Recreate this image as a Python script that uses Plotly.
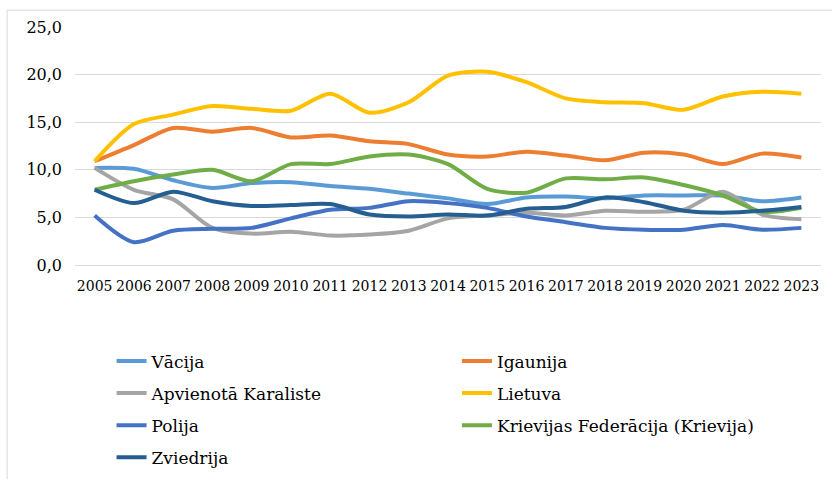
import plotly.graph_objects as go

years = [str(y) for y in range(2005, 2024)]

vacija = [10.2, 10.1, 8.9, 8.1, 8.6, 8.7, 8.3, 8.0, 7.5, 7.0, 6.4, 7.1, 7.2, 7.0, 7.3, 7.3, 7.3, 6.7, 7.1]
igaunija = [10.9, 12.6, 14.4, 14.0, 14.4, 13.4, 13.6, 13.0, 12.7, 11.6, 11.4, 11.9, 11.5, 11.0, 11.8, 11.6, 10.6, 11.7, 11.3]
apvienota = [10.2, 7.9, 6.9, 3.9, 3.3, 3.5, 3.1, 3.2, 3.6, 4.9, 5.2, 5.5, 5.2, 5.7, 5.6, 5.8, 7.7, 5.3, 4.8]
lietuva = [10.9, 14.8, 15.8, 16.7, 16.4, 16.2, 18.0, 16.0, 17.1, 19.9, 20.3, 19.2, 17.5, 17.1, 17.0, 16.3, 17.7, 18.2, 18.0]
polija = [5.2, 2.4, 3.6, 3.8, 3.9, 4.9, 5.8, 6.0, 6.7, 6.5, 6.0, 5.1, 4.5, 3.9, 3.7, 3.7, 4.2, 3.7, 3.9]
krievija = [7.9, 8.8, 9.5, 10.0, 8.8, 10.6, 10.6, 11.4, 11.6, 10.6, 8.0, 7.6, 9.1, 9.0, 9.2, 8.4, 7.3, 5.6, 6.0]
zviedrija = [7.9, 6.5, 7.7, 6.7, 6.2, 6.3, 6.4, 5.3, 5.1, 5.3, 5.2, 5.9, 6.1, 7.1, 6.6, 5.7, 5.5, 5.7, 6.1]

series = [
    ("Vācija", vacija, "#5B9BD5"),
    ("Igaunija", igaunija, "#ED7D31"),
    ("Apvienotā Karaliste", apvienota, "#A5A5A5"),
    ("Lietuva", lietuva, "#FFC000"),
    ("Polija", polija, "#4472C4"),
    ("Krievijas Federācija (Krievija)", krievija, "#70AD47"),
    ("Zviedrija", zviedrija, "#255E91"),
]

# legend placement (paper coords): two columns, four rows
leg_x = [0.049, 0.512]
leg_y = [-0.405, -0.54, -0.675, -0.81]

FONT = "DejaVu Serif"

fig = go.Figure()
layout_legends = {}
for i, (name, vals, color) in enumerate(series):
    lname = "legend" if i == 0 else f"legend{i+1}"
    fig.add_trace(go.Scatter(
        x=years, y=vals, name=name, mode="lines",
        line=dict(color=color, width=4, shape="spline", smoothing=0.8),
        legend=lname,
    ))
    layout_legends[lname] = dict(
        x=leg_x[i % 2], y=leg_y[i // 2], xanchor="left", yanchor="middle",
        font=dict(family=FONT, size=17, color="#000000"),
        bgcolor="rgba(0,0,0,0)", borderwidth=0,
    )

fig.update_layout(
    width=832, height=479,
    margin=dict(l=75, r=11, t=27, b=214, autoexpand=False),
    paper_bgcolor="white", plot_bgcolor="white",
    separators=",.",
    showlegend=True,
    font=dict(family=FONT, size=16, color="#000000"),
    **layout_legends,
)
fig.update_xaxes(
    type="category", range=[-0.5, 18.5], automargin=False,
    showgrid=False, showline=False, zeroline=False,
    ticks="", tickangle=0,
    tickfont=dict(family=FONT, size=14, color="#000000"),
    ticklabelstandoff=11,
)
fig.update_yaxes(
    range=[0, 25], dtick=5, tickformat=".1f", automargin=False,
    showgrid=True, gridcolor="#D9D9D9", gridwidth=1,
    zeroline=True, zerolinecolor="#D9D9D9", zerolinewidth=1,
    showline=False, ticks="",
    tickfont=dict(family=FONT, size=16, color="#000000"),
    ticklabelstandoff=12,
)
fig.add_shape(
    type="rect", xref="paper", yref="paper",
    x0=-0.091, x1=1.03, y0=-0.95, y1=1.071,
    line=dict(color="#D9D9D9", width=1), fillcolor="rgba(0,0,0,0)",
    layer="below",
)

fig.write_html(
    "out.html",
    config={"displayModeBar": False},
    post_script="document.body.style.margin='0';document.body.style.padding='0';",
)
